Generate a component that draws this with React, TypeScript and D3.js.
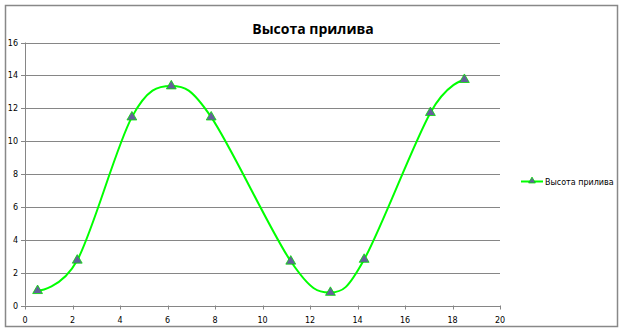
import React from "react";
import * as d3 from "d3";

const xValues = [0.53, 2.2, 4.5, 6.16, 7.84, 11.19, 12.86, 14.28, 17.07, 18.5];
const yValues = [0.9, 2.75, 11.46, 13.35, 11.46, 2.69, 0.79, 2.8, 11.73, 13.74];
const xTicks = [0, 2, 4, 6, 8, 10, 12, 14, 16, 18, 20];
const yTicks = [0, 2, 4, 6, 8, 10, 12, 14, 16];
const title = "Высота прилива";
const seriesName = "Высота прилива";

const W = 623;
const H = 332;

export default function App() {
  const x = d3.scaleLinear().domain([0, 20]).range([25, 500]);
  const y = d3.scaleLinear().domain([0, 16]).range([305.5, 42.5]);
  const pts: [number, number][] = xValues.map((v, i) => [v, yValues[i]]);
  const line = d3
    .line<[number, number]>()
    .x((d) => x(d[0]))
    .y((d) => y(d[1]))
    .curve(d3.curveCardinal.tension(0));
  const tri = d3.symbol().type(d3.symbolTriangle).size(42)();
  const grid = "#868686";
  const tickFont = { fontFamily: "DejaVu Sans", fontSize: 8, fill: "#000" };
  return (
    <svg
      width={W}
      height={H}
      style={{ position: "absolute", left: 0, top: 0, background: "#fff" }}
    >
      <rect x={5.5} y={5.5} width={612} height={321} fill="#fff" stroke="#888" strokeWidth={1.5} />
      <text
        x={313}
        y={34}
        textAnchor="middle"
        style={{ fontFamily: "Open Sans", fontWeight: 700, fontSize: 14 }}
      >
        {title}
      </text>
      {yTicks.map((t) => (
        <g key={"y" + t}>
          {t > 0 && (
            <line x1={x(0)} x2={x(20)} y1={Math.round(y(t)) + 0.5} y2={Math.round(y(t)) + 0.5} stroke={grid} strokeWidth={1} />
          )}
          <line x1={x(0) - 4} x2={x(0)} y1={Math.round(y(t)) + 0.5} y2={Math.round(y(t)) + 0.5} stroke={grid} />
          <text x={18} y={y(t) + 3} textAnchor="end" style={tickFont}>
            {t}
          </text>
        </g>
      ))}
      <line x1={x(0) + 0.5} x2={x(0) + 0.5} y1={y(16)} y2={y(0)} stroke={grid} />
      <line x1={x(0)} x2={x(20)} y1={Math.round(y(0)) + 0.5} y2={Math.round(y(0)) + 0.5} stroke={grid} />
      {xTicks.map((t) => (
        <g key={"x" + t}>
          <line x1={Math.round(x(t)) + 0.5} x2={Math.round(x(t)) + 0.5} y1={y(0)} y2={y(0) + 4} stroke={grid} />
          <text x={x(t)} y={323} textAnchor="middle" style={tickFont}>
            {t}
          </text>
        </g>
      ))}
      <path d={line(pts) || ""} fill="none" stroke="#00ff00" strokeWidth={2} />
      {pts.map((p, i) => (
        <path
          key={i}
          d={tri || ""}
          transform={`translate(${x(p[0])},${y(p[1])})`}
          fill="#665e9c"
          stroke="#00e000"
          strokeWidth={0.8}
        />
      ))}
      <line x1={521} x2={543} y1={181.5} y2={181.5} stroke="#00ff00" strokeWidth={2} />
      <path d={d3.symbol().type(d3.symbolTriangle).size(20)() || ""} transform="translate(532,181)" fill="#665e9c" stroke="#00e000" strokeWidth={0.8} />
      <text x={545} y={184.5} style={tickFont}>
        {seriesName}
      </text>
    </svg>
  );
}
